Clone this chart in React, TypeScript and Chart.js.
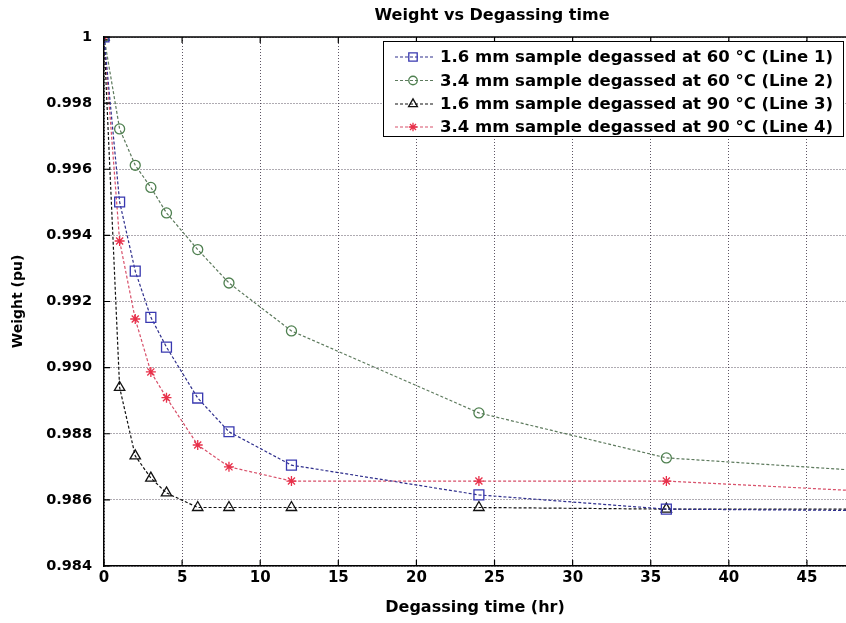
import React, { useEffect, useRef } from 'react';
import { Chart, registerables } from 'chart.js';
Chart.register(...registerables);

const chartTitle = 'Weight vs Degassing time';
const xAxisTitle = 'Degassing time (hr)';
const yAxisTitle = 'Weight (pu)';
const xTickValues = [0, 5, 10, 15, 20, 25, 30, 35, 40, 45];
const yTickValues = [0.984, 0.986, 0.988, 0.99, 0.992, 0.994, 0.996, 0.998, 1];

const timeHr = [0, 1, 2, 3, 4, 6, 8, 12, 24, 36, 48];
const line1 = [1, 0.99501, 0.99292, 0.99152, 0.99062, 0.98908, 0.98806, 0.98705, 0.98615, 0.98572, 0.98568];
const line2 = [1, 0.99722, 0.99612, 0.99545, 0.99468, 0.99357, 0.99256, 0.99111, 0.98863, 0.98727, 0.9869];
const line3 = [1, 0.9894, 0.98733, 0.98666, 0.98621, 0.98577, 0.98577, 0.98577, 0.98577, 0.98572, 0.98572];
const line4 = [1, 0.99383, 0.99147, 0.98987, 0.98909, 0.98766, 0.987, 0.98657, 0.98657, 0.98657, 0.98628];

const seriesLabels = [
  '1.6 mm sample degassed at 60 \u00B0C (Line 1)',
  '3.4 mm sample degassed at 60 \u00B0C (Line 2)',
  '1.6 mm sample degassed at 90 \u00B0C (Line 3)',
  '3.4 mm sample degassed at 90 \u00B0C (Line 4)',
];

const FONT = '"DejaVu Sans", "Liberation Sans", sans-serif';

const styles = [
  { line: '#2e2e8c', marker: '#3838b0', point: 'rect', r: 7 },
  { line: '#5d7a5d', marker: '#4f8050', point: 'circle', r: 5 },
  { line: '#111111', marker: '#111111', point: 'triangle', r: 6 },
  { line: '#d8506a', marker: '#e8304a', point: 'star', r: 5 },
];

function drawMarker(ctx: CanvasRenderingContext2D, style: string, x: number, y: number, r: number) {
  ctx.beginPath();
  if (style === 'rect') {
    const s = Math.SQRT1_2 * r;
    ctx.rect(x - s, y - s, 2 * s, 2 * s);
  } else if (style === 'circle') {
    ctx.arc(x, y, r, 0, Math.PI * 2);
  } else if (style === 'triangle') {
    const side = (r * 3) / Math.sqrt(3);
    const h = (side * Math.sqrt(3)) / 2;
    ctx.moveTo(x - side / 2, y + h / 3);
    ctx.lineTo(x + side / 2, y + h / 3);
    ctx.lineTo(x, y - (2 * h) / 3);
    ctx.closePath();
  } else {
    for (let k = 0; k < 4; k++) {
      const a = (k * Math.PI) / 4;
      ctx.moveTo(x - Math.cos(a) * r, y - Math.sin(a) * r);
      ctx.lineTo(x + Math.cos(a) * r, y + Math.sin(a) * r);
    }
  }
  ctx.stroke();
}

const framePlugin = {
  id: 'frame',
  afterDraw(chart: any) {
    const ctx: CanvasRenderingContext2D = chart.ctx;
    const area = chart.chartArea;
    const xs = chart.scales.x;
    const ys = chart.scales.y;
    ctx.save();
    ctx.strokeStyle = '#000';
    ctx.lineWidth = 1.5;
    ctx.beginPath();
    ctx.moveTo(area.left, area.top);
    ctx.lineTo(area.right, area.top);
    ctx.stroke();
    ctx.lineWidth = 1.2;
    ctx.beginPath();
    xTickValues.forEach((v) => {
      const px = xs.getPixelForValue(v);
      ctx.moveTo(px, area.bottom);
      ctx.lineTo(px, area.bottom - 6);
      ctx.moveTo(px, area.top);
      ctx.lineTo(px, area.top + 6);
    });
    yTickValues.forEach((v) => {
      const py = ys.getPixelForValue(v);
      ctx.moveTo(area.left, py);
      ctx.lineTo(area.left + 6, py);
    });
    ctx.stroke();

    ctx.fillStyle = '#000';
    ctx.font = 'bold 16px ' + FONT;
    ctx.textAlign = 'center';
    ctx.textBaseline = 'middle';
    ctx.fillText(chartTitle, 492, 16);

    const bx = 383, by = 41, bw = 460, bh = 95;
    ctx.fillStyle = '#fff';
    ctx.fillRect(bx, by, bw, bh);
    ctx.strokeStyle = '#000';
    ctx.lineWidth = 1;
    ctx.strokeRect(bx + 0.5, by + 0.5, bw, bh);
    const rows = [57, 80.5, 104, 127];
    chart.data.datasets.forEach((ds: any, i: number) => {
      const st = styles[i];
      const y = rows[i];
      ctx.strokeStyle = st.line;
      ctx.lineWidth = 1.2;
      ctx.setLineDash([3, 2]);
      ctx.beginPath();
      ctx.moveTo(395, y);
      ctx.lineTo(435, y);
      ctx.stroke();
      ctx.setLineDash([]);
      ctx.strokeStyle = st.marker;
      ctx.lineWidth = 1.3;
      drawMarker(ctx, st.point, 413, y, st.r * 0.85);
      ctx.fillStyle = '#000';
      ctx.font = 'bold 16.5px ' + FONT;
      ctx.textAlign = 'left';
      ctx.textBaseline = 'middle';
      ctx.fillText(ds.label, 440, y + 1);
    });
    ctx.restore();
  },
};

export default function App() {
  const ref = useRef<HTMLCanvasElement>(null);
  useEffect(() => {
    document.body.style.margin = '0';
    const canvas = ref.current!;
    const series = [line1, line2, line3, line4];
    const chart = new Chart(canvas, {
      type: 'line',
      data: {
        datasets: series.map((vals, i) => ({
          label: seriesLabels[i],
          data: timeHr.map((t, k) => ({ x: t, y: vals[k] })),
          borderColor: styles[i].line,
          borderWidth: 1.2,
          borderDash: [3, 2],
          pointStyle: styles[i].point as any,
          pointRadius: styles[i].r,
          pointBorderColor: styles[i].marker,
          pointBackgroundColor: 'rgba(0,0,0,0)',
          pointBorderWidth: 1.3,
          tension: 0,
          fill: false,
        })),
      },
      options: {
        animation: false,
        responsive: false,
        devicePixelRatio: 1,
        layout: { autoPadding: false, padding: { top: 37, left: 0, right: 0, bottom: 0 } },
        plugins: {
          legend: { display: false },
          title: { display: false },
          tooltip: { enabled: false },
        },
        scales: {
          x: {
            type: 'linear',
            min: 0,
            max: 47.5,
            afterFit: (s: any) => { s.height = 57; s.paddingRight = 0; s.paddingLeft = 0; },
            afterBuildTicks: (s: any) => { s.ticks = xTickValues.map((v) => ({ value: v })); },
            ticks: {
              color: '#000',
              font: { family: FONT, size: 15, weight: 'bold' },
              padding: 3,
              maxRotation: 0,
              autoSkip: false,
              callback: (v: any) => String(v),
            },
            grid: { color: 'rgba(40,30,50,0.75)', lineWidth: 1, drawTicks: false },
            border: { display: true, color: '#000', width: 1.5, dash: [1, 2] },
            title: {
              display: true,
              text: xAxisTitle,
              color: '#000',
              font: { family: FONT, size: 16, weight: 'bold' },
              padding: { top: 0, bottom: 6 },
            },
          },
          y: {
            type: 'linear',
            min: 0.984,
            max: 1,
            afterFit: (s: any) => { s.width = 104; s.paddingTop = 0; s.paddingBottom = 0; },
            afterBuildTicks: (s: any) => { s.ticks = yTickValues.map((v) => ({ value: v })); },
            ticks: {
              color: '#000',
              font: { family: FONT, size: 14.5, weight: 'bold' },
              padding: 12,
              autoSkip: false,
              callback: (v: any) => (v === 1 ? '1' : Number(v).toFixed(3)),
            },
            grid: { color: 'rgba(40,30,50,0.75)', lineWidth: 1, drawTicks: false },
            border: { display: true, color: '#000', width: 1.5, dash: [1, 2] },
            title: {
              display: true,
              text: yAxisTitle,
              color: '#000',
              font: { family: FONT, size: 14, weight: 'bold' },
              padding: { top: 10, bottom: 4 },
            },
          },
        },
      },
      plugins: [framePlugin],
    });
    return () => chart.destroy();
  }, []);
  return <canvas ref={ref} width={846} height={623} style={{ display: 'block' }} />;
}
